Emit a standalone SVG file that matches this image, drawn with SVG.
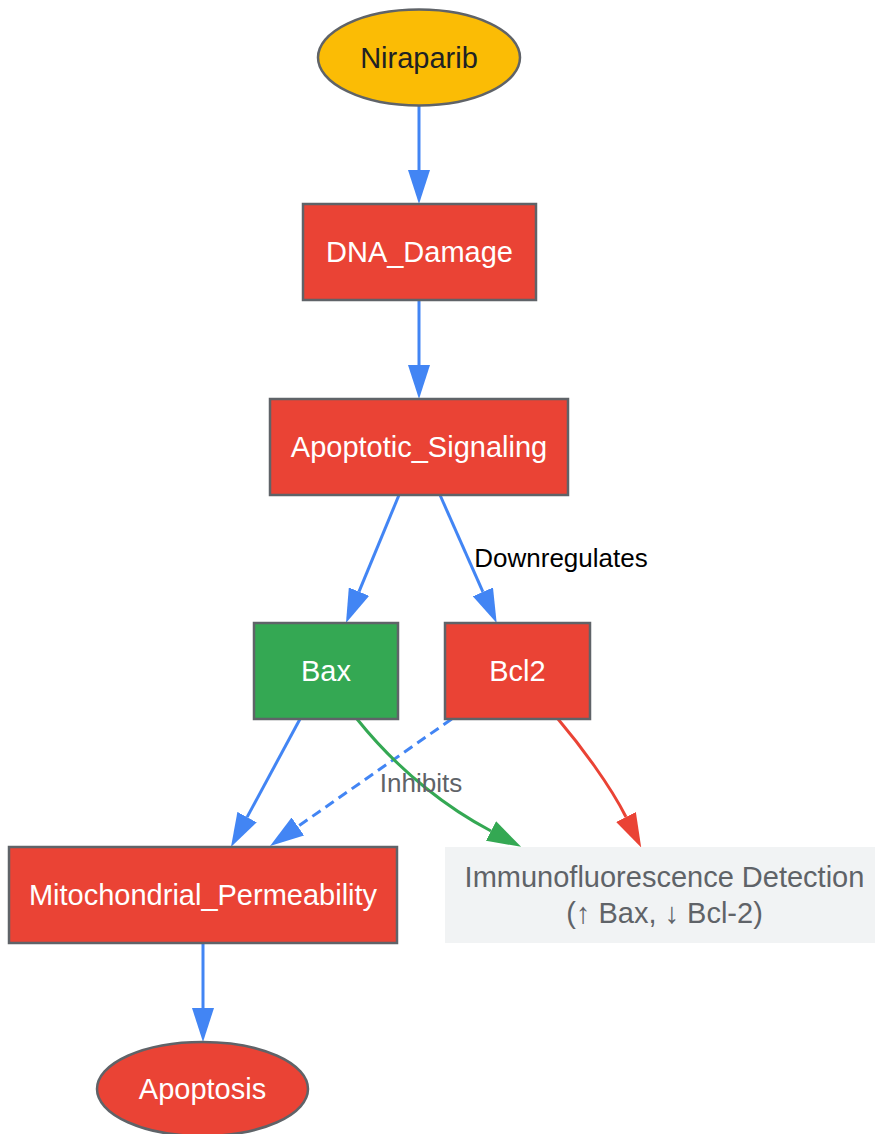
<svg xmlns="http://www.w3.org/2000/svg" width="875" height="1134" viewBox="0 0 875 1134">
<style>
.node{stroke:#5f6368;stroke-width:2.5}
.red{fill:#EA4335}
.green{fill:#34A853}
.yellow{fill:#FBBC05}
.lbl{font-family:"Liberation Sans",Arial,sans-serif;font-size:29px;text-anchor:middle;fill:#ffffff}
.elbl{font-family:"Liberation Sans",Arial,sans-serif;font-size:26px;text-anchor:middle}
.e{fill:none;stroke-width:3}
.blue{stroke:#4285F4}
.eg{stroke:#34A853}
.er{stroke:#EA4335}
</style>
<defs>
<marker id="ab" viewBox="0 0 34 22" refX="0" refY="11" markerUnits="userSpaceOnUse" markerWidth="34" markerHeight="22" orient="auto"><path d="M0,0 L34,11 L0,22 z" fill="#4285F4"/></marker>
<marker id="ag" viewBox="0 0 34 22" refX="0" refY="11" markerUnits="userSpaceOnUse" markerWidth="34" markerHeight="22" orient="auto"><path d="M0,0 L34,11 L0,22 z" fill="#34A853"/></marker>
<marker id="ar" viewBox="0 0 34 22" refX="0" refY="11" markerUnits="userSpaceOnUse" markerWidth="34" markerHeight="22" orient="auto"><path d="M0,0 L34,11 L0,22 z" fill="#EA4335"/></marker>
</defs>
<rect width="875" height="1134" fill="#ffffff"/>
<g id="edges">
<path class="e blue" d="M419,105 L419,170" marker-end="url(#ab)"/>
<path class="e blue" d="M419,300 L419,365" marker-end="url(#ab)"/>
<path class="e blue" d="M399,495 L359,591.6" marker-end="url(#ab)"/>
<path class="e blue" d="M440,495 L482.9,591.9" marker-end="url(#ab)"/>
<text class="elbl" x="561" y="567" fill="#000000">Downregulates</text>
<path class="e blue" d="M300,719 L247.1,817.1" marker-end="url(#ab)"/>
<path class="e blue" d="M451.7,719 L297.9,826.5" stroke-dasharray="10,6" marker-end="url(#ab)"/>
<path class="e eg" d="M357,719 C401,774 451,810 491,831" marker-end="url(#ag)"/>
<path class="e er" d="M558,719 C580,745 610,785 626,817" marker-end="url(#ar)"/>
<text class="elbl" x="421" y="792" fill="#5f6368">Inhibits</text>
<path class="e blue" d="M203,943 L203,1008" marker-end="url(#ab)"/>
</g>
<g id="Niraparib">
<ellipse class="node yellow" cx="419" cy="57.5" rx="101" ry="48"/>
<text class="lbl" x="419" y="67.5" fill="#202124" style="fill:#202124">Niraparib</text>
</g>
<g id="DNA_Damage">
<rect class="node red" x="303" y="204" width="233" height="96"/>
<text class="lbl" x="419.5" y="262">DNA_Damage</text>
</g>
<g id="Apoptotic_Signaling">
<rect class="node red" x="270" y="399" width="298" height="96"/>
<text class="lbl" x="419" y="457">Apoptotic_Signaling</text>
</g>
<g id="Bax">
<rect class="node green" x="254" y="623" width="144" height="96"/>
<text class="lbl" x="326" y="681">Bax</text>
</g>
<g id="Bcl2">
<rect class="node red" x="445" y="623" width="145" height="96"/>
<text class="lbl" x="517.5" y="681">Bcl2</text>
</g>
<g id="Mitochondrial_Permeability">
<rect class="node red" x="9" y="847" width="388" height="96"/>
<text class="lbl" x="203" y="905">Mitochondrial_Permeability</text>
</g>
<g id="Immunofluorescence_Detection">
<rect x="445" y="847" width="440" height="96" fill="#F1F3F4"/>
<text class="lbl" x="664.5" y="887" style="fill:#5f6368">Immunofluorescence Detection</text>
<text class="lbl" x="664.5" y="923" style="fill:#5f6368">(↑ Bax, ↓ Bcl-2)</text>
</g>
<g id="Apoptosis">
<ellipse class="node red" cx="202.5" cy="1089" rx="105.5" ry="47"/>
<text class="lbl" x="202.5" y="1099">Apoptosis</text>
</g>
</svg>
